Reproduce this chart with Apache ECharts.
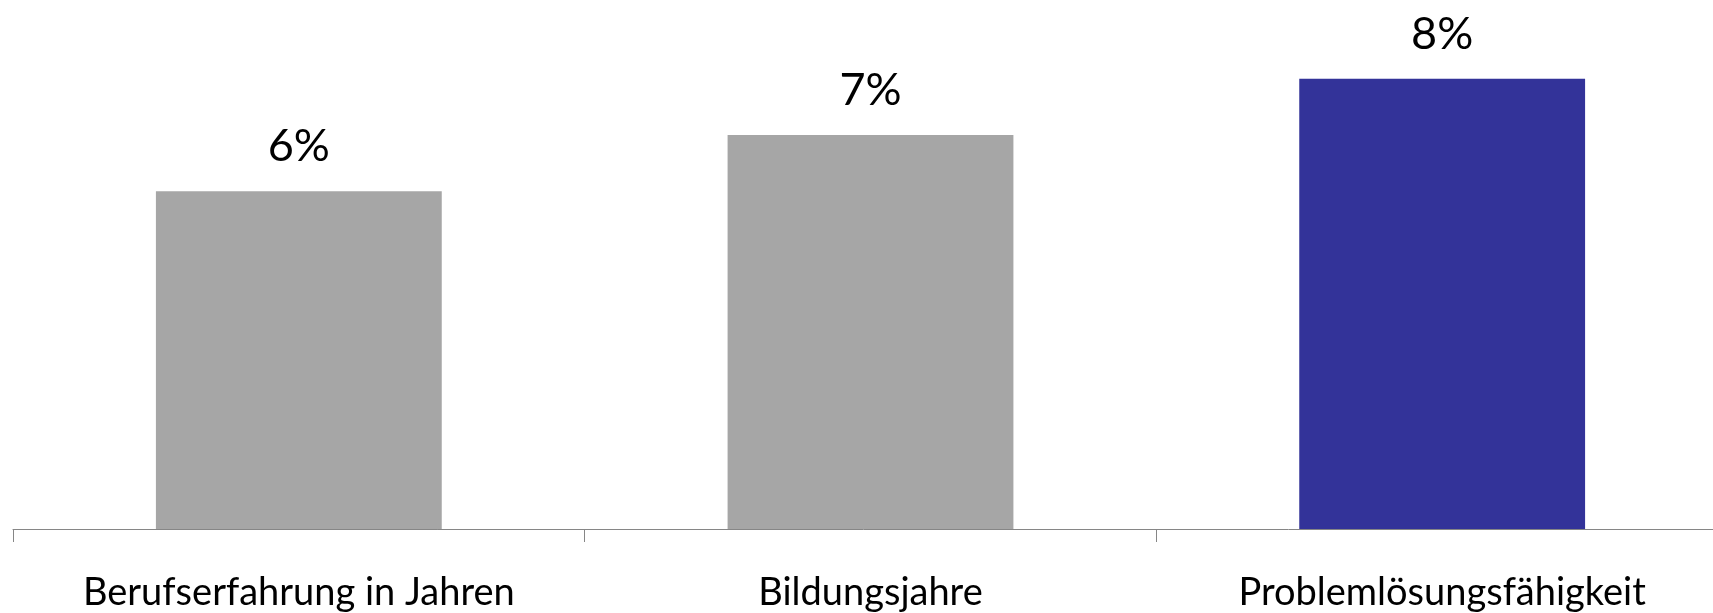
<!DOCTYPE html>
<html>
<head>
<meta charset="utf-8">
<script src="https://cdn.jsdelivr.net/npm/echarts@6/dist/echarts.min.js"></script>
<style>
  html, body { margin: 0; padding: 0; background: #ffffff; }
  #chart { width: 1713px; height: 613px; }
</style>
</head>
<body>
<div id="chart"></div>
<script>
// Kategorien und Anteile in Prozent
const categories = ['Berufserfahrung in Jahren', 'Bildungsjahre', 'Problemlösungsfähigkeit'];
const values = [6, 7, 8];
const barColors = ['#A6A6A6', '#A6A6A6', '#333399'];

const chart = echarts.init(document.getElementById('chart'), null, { renderer: 'canvas' });

chart.setOption({
  animation: false,
  backgroundColor: '#ffffff',
  // Die Achse läuft rechts über den Rand hinaus
  grid: {
    left: 13, width: 1715, top: 0, height: 529,
    containLabel: false,
    outerBoundsMode: 'none'
  },
  xAxis: {
    type: 'category',
    data: categories,
    axisLine: { show: true, lineStyle: { color: '#868686', width: 1 } },
    axisTick: { show: true, length: 13, lineStyle: { color: '#868686', width: 1 } },
    axisLabel: {
      margin: 45,
      color: '#000000',
      fontFamily: 'Lato',
      fontSize: 38
    }
  },
  yAxis: {
    type: 'value',
    min: 0,
    max: 9.4,
    show: false,
    splitLine: { show: false }
  },
  series: [{
    type: 'bar',
    barWidth: '50%',
    data: values.map((v, i) => ({ value: v, itemStyle: { color: barColors[i] } })),
    label: {
      show: true,
      position: 'top',
      distance: 22,
      color: '#000000',
      fontFamily: 'Lato',
      fontSize: 45,
      formatter: p => p.value + '%'
    }
  }]
});
</script>
</body>
</html>
